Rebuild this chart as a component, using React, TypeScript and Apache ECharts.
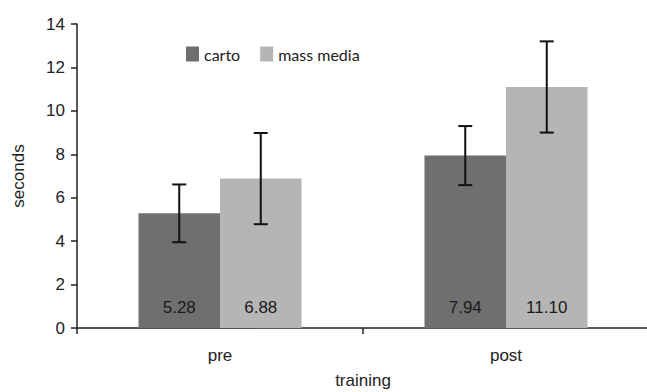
import React, { useEffect, useRef } from "react";
import * as echarts from "echarts";

const categories = ["pre", "post"];
const cartoMeans = [5.28, 7.94];
const massMeans = [6.88, 11.1];
const cartoErr = [1.33, 1.36];
const massErr = [2.1, 2.1];
const yTicks = { min: 0, max: 14, interval: 2 };

const CARTO_COLOR = "#6f6f6f";
const MASS_COLOR = "#b5b5b5";
const BAR_GAP_CATEGORY = "43%";
const AXIS_FONT = "Liberation Sans";
const LEGEND_FONT = "Lato";

// Error bar renderer: side = -1 for the left bar of a group, +1 for the right.
function makeErrorRenderer(side: number) {
  return (params: any, api: any) => {
    const cat = api.value(0);
    const lo = api.value(1);
    const hi = api.value(2);
    const band = api.size([1, 0])[0];
    const barW = (band * (1 - parseFloat(BAR_GAP_CATEGORY) / 100)) / 2;
    const top = api.coord([cat, hi]);
    const bottom = api.coord([cat, lo]);
    const x = top[0] + (side * barW) / 2;
    const cap = 7;
    const style = { stroke: "#111", lineWidth: 2 };
    return {
      type: "group",
      children: [
        { type: "line", shape: { x1: x, y1: top[1], x2: x, y2: bottom[1] }, style },
        { type: "line", shape: { x1: x - cap, y1: top[1], x2: x + cap, y2: top[1] }, style },
        { type: "line", shape: { x1: x - cap, y1: bottom[1], x2: x + cap, y2: bottom[1] }, style },
      ],
    };
  };
}

export default function App() {
  const ref = useRef<HTMLDivElement>(null);

  useEffect(() => {
    if (!ref.current) return;
    const chart = echarts.init(ref.current, null, { renderer: "svg", width: 647, height: 392 });

    const barLabel = {
      show: true,
      position: "insideBottom" as const,
      distance: 12,
      color: "#1a1a1a",
      fontFamily: AXIS_FONT,
      fontSize: 17,
      formatter: (p: any) => Number(p.value).toFixed(2),
    };

    chart.setOption({
      animation: false,
      backgroundColor: "#ffffff",
      grid: {
        left: 77,
        right: -2,
        top: 24,
        bottom: 64,
        containLabel: false,
        outerBoundsMode: "none",
      },
      legend: {
        left: 181,
        top: 41,
        itemWidth: 13,
        itemHeight: 15,
        itemGap: 20,
        icon: "rect",
        textStyle: { fontFamily: LEGEND_FONT, fontSize: 16, color: "#222" },
        data: ["carto", "mass media"],
      },
      xAxis: {
        type: "category",
        data: categories,
        name: "training",
        nameLocation: "middle",
        nameGap: 44,
        nameTextStyle: { fontFamily: AXIS_FONT, fontSize: 17, color: "#222" },
        axisLine: { lineStyle: { color: "#222", width: 1.5 } },
        axisTick: { show: true, length: 6, lineStyle: { color: "#222", width: 1.5 } },
        axisLabel: { fontFamily: AXIS_FONT, fontSize: 17, color: "#222", margin: 19 },
      },
      yAxis: {
        type: "value",
        min: yTicks.min,
        max: yTicks.max,
        interval: yTicks.interval,
        name: "seconds",
        nameLocation: "middle",
        nameGap: 50,
        nameRotate: 90,
        nameTextStyle: { fontFamily: AXIS_FONT, fontSize: 17, color: "#222" },
        axisLine: { show: true, lineStyle: { color: "#222", width: 1.5 } },
        axisTick: { show: true, length: 6, lineStyle: { color: "#222", width: 1.5 } },
        axisLabel: { fontFamily: AXIS_FONT, fontSize: 17, color: "#222", margin: 12 },
        splitLine: { show: false },
      },
      series: [
        {
          name: "carto",
          type: "bar",
          data: cartoMeans,
          barGap: "0%",
          barCategoryGap: BAR_GAP_CATEGORY,
          itemStyle: { color: CARTO_COLOR },
          label: barLabel,
        },
        {
          name: "mass media",
          type: "bar",
          data: massMeans,
          itemStyle: { color: MASS_COLOR },
          label: barLabel,
        },
        {
          type: "custom",
          renderItem: makeErrorRenderer(-1),
          data: cartoMeans.map((m, i) => [i, m - cartoErr[i], m + cartoErr[i]]),
          encode: { x: 0, y: [1, 2] },
          z: 10,
        },
        {
          type: "custom",
          renderItem: makeErrorRenderer(1),
          data: massMeans.map((m, i) => [i, m - massErr[i], m + massErr[i]]),
          encode: { x: 0, y: [1, 2] },
          z: 10,
        },
      ],
    });

    return () => chart.dispose();
  }, []);

  return (
    <div
      ref={ref}
      style={{ position: "fixed", left: 0, top: 0, width: 647, height: 392, background: "#fff" }}
    />
  );
}
